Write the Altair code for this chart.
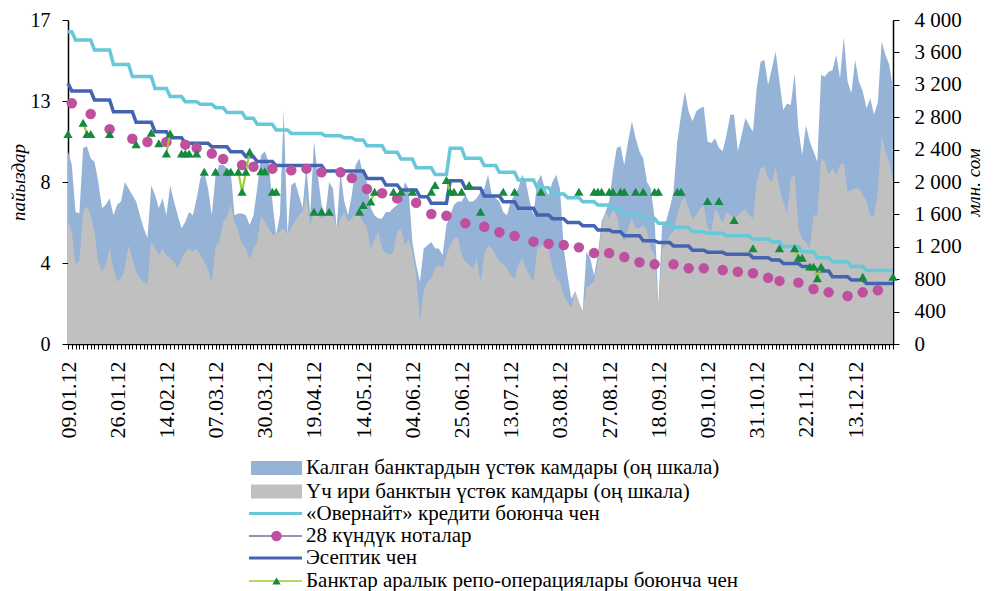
import altair as alt
import pandas as pd

FONT = "Liberation Serif, Times New Roman, DejaVu Serif, serif"
N = 219

# x-axis tick labels (every 13th trading day)
x_labels = ["09.01.12", "26.01.12", "14.02.12", "07.03.12", "30.03.12", "19.04.12",
            "14.05.12", "04.06.12", "25.06.12", "13.07.12", "03.08.12", "27.08.12",
            "18.09.12", "09.10.12", "31.10.12", "22.11.12", "13.12.12"]
label_step = 13

left_ticks = [0, 4.25, 8.5, 12.75, 17]
left_labels = ["0", "4", "8", "13", "17"]
right_ticks = [0, 400, 800, 1200, 1600, 2000, 2400, 2800, 3200, 3600, 4000]

# excess reserves, mln som (right scale): top of the blue area (all banks)
reserves_all = [
    2380, 2210, 1630, 1610, 2420, 2440, 2290, 2250, 2000, 1680,
    1720, 1800, 1590, 1720, 1760, 2000, 1920, 1840, 1760, 1590,
    1430, 1310, 1960, 1840, 1680, 1800, 1590, 1960, 1760, 1590,
    1430, 1510, 1630, 1590, 1800, 2050, 2130, 1920, 1590, 2090,
    2210, 2210, 2170, 2130, 1590, 1610, 1610, 1590, 1470, 1590,
    1920, 2330, 2380, 2250, 1760, 1350, 1590, 2890, 1350, 1960,
    2000, 1840, 1680, 2210, 1590, 2500, 2090, 1720, 1590, 2000,
    1920, 1430, 2130, 1760, 1590, 1840, 2210, 2290, 2090, 2000,
    1680, 1590, 1550, 1550, 1630, 1630, 1680, 1720, 1760, 2000,
    1920, 1260, 980, 770, 1180, 1220, 1260, 1180, 1180, 1100,
    1470, 1590, 1720, 1760, 1760, 1840, 1760, 1760, 1800, 1880,
    1920, 2090, 1840, 1800, 1760, 1630, 1590, 1760, 1840, 1920,
    2090, 2000, 1760, 1590, 2000, 2090, 1920, 1840, 2000, 2090,
    1920, 1180, 850, 560, 650, 520, 400, 1140, 1060, 850,
    1100, 1510, 1630, 1760, 2130, 2420, 2440, 2210, 2500, 2750,
    2540, 2380, 2290, 2000, 1920, 1550, 480, 1470, 1510, 1680,
    1880, 2500, 2830, 3120, 2870, 2750, 2870, 2910, 2930, 2500,
    2480, 2540, 2420, 2380, 2580, 2830, 2830, 2380, 2580, 2790,
    2700, 2620, 3160, 3480, 3510, 3200, 3400, 3610, 3240, 2890,
    2970, 2950, 3340, 2660, 2330, 2700, 2500, 2380, 2250, 3320,
    3300, 3360, 3380, 3570, 3280, 3790, 3240, 3100, 3510, 3240,
    3120, 2910, 3030, 2830, 2990, 3730, 3570, 3450, 3160]

# excess reserves of the three largest banks (gray area)
reserves_big3 = [
    1510, 1390, 980, 1020, 1630, 1700, 1590, 1390, 1020, 890,
    980, 1180, 930, 770, 810, 930, 1220, 1060, 890, 810,
    770, 730, 1260, 1180, 1100, 1180, 1100, 1060, 1020, 930,
    1060, 1140, 1180, 1140, 1180, 1100, 1020, 930, 770, 1220,
    1260, 1510, 1560, 1720, 1510, 1390, 1240, 1180, 1040, 1180,
    1260, 1590, 1510, 1430, 1350, 1350, 1390, 1430, 1350, 1430,
    1510, 1590, 1630, 1820, 1470, 1630, 1590, 1550, 1590, 1700,
    1590, 1430, 1550, 1630, 1510, 1550, 1610, 1590, 1510, 1430,
    1180, 1300, 1390, 1180, 1120, 1100, 1140, 1390, 1430, 1220,
    1300, 1140, 850, 280, 650, 770, 810, 930, 980, 930,
    1100, 1220, 1300, 1320, 1100, 1020, 980, 930, 1060, 770,
    1100, 1220, 1180, 1100, 1020, 980, 930, 850, 810, 980,
    1060, 930, 850, 770, 1180, 1220, 1220, 1180, 930, 810,
    770, 600, 520, 440, 650, 520, 400, 690, 730, 770,
    1020, 1430, 1630, 1550, 1670, 1590, 1350, 1260, 1430, 1550,
    1430, 1430, 1470, 1390, 1180, 1100, 440, 1180, 1220, 1350,
    1390, 1590, 1760, 1820, 1670, 1550, 1590, 1670, 1720, 1430,
    1390, 1670, 1590, 1490, 1630, 1590, 1550, 1590, 1630, 1670,
    1590, 1550, 2000, 2170, 2190, 2050, 2000, 2190, 1920, 1760,
    1590, 2050, 2090, 1430, 1300, 1260, 1180, 1590, 1590, 2290,
    2250, 2090, 2170, 2090, 2210, 2230, 1880, 1900, 1920, 1920,
    1840, 1760, 1590, 1570, 1900, 2580, 2370, 2250, 2000]

# overnight rate, % : (first trading-day index of the level, level)
overnight_start = [0, 2, 7, 12, 17, 23, 27, 31, 35, 39, 42, 47, 50, 55, 59, 68, 73, 76, 79, 84,
                   88, 92, 97, 101, 105, 110, 114, 119, 124, 128, 132, 136, 140, 144, 147, 152,
                   156, 160, 165, 169, 174, 181, 186, 189, 194, 198, 202, 207, 211]
overnight_rate = [16.39, 15.95, 15.43, 14.67, 14.03, 13.41, 12.98, 12.71, 12.58, 12.40, 12.15,
                  11.84, 11.53, 11.23, 11.05, 10.93, 10.82, 10.70, 10.40, 10.06, 9.71, 9.25,
                  8.90, 10.27, 9.74, 9.36, 9.01, 8.60, 8.20, 7.87, 7.68, 7.47, 7.29, 7.08, 6.80,
                  6.59, 6.33, 6.12, 5.89, 5.81, 5.68, 5.51, 5.37, 5.11, 4.84, 4.53, 4.32, 4.06, 3.85]

# accounting (policy) rate, %
account_start = [0, 1, 7, 12, 18, 23, 27, 31, 38, 43, 47, 50, 55, 68, 79, 84, 88, 93, 96, 101,
                 105, 110, 115, 119, 124, 128, 132, 136, 140, 144, 147, 152, 156, 160, 165, 169,
                 174, 181, 186, 189, 194, 198, 202, 207, 211]
account_rate = [13.68, 13.27, 12.80, 12.19, 11.63, 11.14, 10.82, 10.53, 10.35, 10.09, 9.83, 9.57,
                9.36, 9.08, 8.69, 8.34, 8.08, 7.73, 7.38, 8.57, 8.17, 7.77, 7.47, 7.12, 6.77,
                6.57, 6.38, 6.21, 5.98, 5.89, 5.68, 5.42, 5.32, 5.14, 4.92, 4.81, 4.71, 4.53,
                4.41, 4.23, 4.06, 3.83, 3.53, 3.36, 3.18]

# 28-day notes yield, % (weekly auctions)
notes_idx = [1, 6, 11, 17, 21, 26, 31, 34, 38, 41, 46, 49, 54, 59, 63, 67, 72, 75, 79, 83, 87,
             92, 96, 100, 105, 110, 114, 118, 123, 127, 131, 135, 139, 143, 147, 151, 155, 160,
             164, 168, 173, 177, 181, 185, 188, 193, 197, 201, 206, 210, 214]
notes_rate = [12.63, 12.07, 11.27, 10.77, 10.60, 10.60, 10.46, 10.28, 9.99, 9.71, 9.39, 9.30,
              9.20, 9.11, 9.20, 9.01, 9.01, 8.71, 8.13, 7.91, 7.64, 7.41, 6.82, 6.73, 6.33,
              6.15, 5.86, 5.67, 5.37, 5.26, 5.19, 5.07, 4.77, 4.77, 4.56, 4.29, 4.18, 4.18,
              3.97, 3.97, 3.88, 3.79, 3.71, 3.48, 3.31, 3.22, 2.89, 2.71, 2.52, 2.71, 2.82]

# interbank repo rate, % (days with deals only)
repo_idx = [0, 4, 5, 6, 11, 18, 22, 24, 26, 27, 30, 31, 32, 34, 36, 39, 42, 43, 45, 46, 47, 48,
            51, 52, 54, 55, 65, 67, 69, 77, 78, 80, 81, 86, 88, 91, 96, 97, 100, 101, 102, 104,
            106, 109, 115, 118, 125, 135, 139, 140, 141, 143, 144, 146, 147, 150, 152, 155, 156,
            161, 162, 169, 172, 176, 181, 188, 192, 193, 194, 196, 197, 198, 199, 210, 218]
repo_rate = [11.02, 11.61, 11.02, 11.02, 11.02, 10.48, 11.09, 10.53, 10.00, 11.05, 10.00, 10.00,
             10.00, 10.00, 9.04, 9.04, 9.04, 9.04, 9.04, 7.99, 9.04, 10.09, 9.07, 9.07, 7.99,
             7.99, 6.94, 6.94, 6.94, 6.94, 7.29, 7.47, 7.99, 7.99, 7.99, 7.99, 7.99, 8.34, 8.60,
             7.99, 7.99, 7.99, 8.34, 6.94, 7.99, 7.99, 7.99, 7.99, 7.99, 7.99, 7.99, 7.99, 7.99,
             7.99, 7.99, 7.99, 7.99, 7.99, 7.99, 7.99, 7.99, 7.50, 7.50, 6.51, 5.02, 5.02, 5.02,
             4.53, 4.53, 4.06, 4.06, 3.45, 4.06, 3.53, 3.53]

legend_texts = ["Калган банктардын үстөк камдары (оң шкала)",
                "Үч ири банктын үстөк камдары (оң шкала)",
                "«Овернайт» кредити боюнча чен",
                "28 күндүк ноталар",
                "Эсептик чен",
                "Банктар аралык репо-операциялары боюнча чен"]

C_BLUE_AREA = "#95B3D7"
C_GRAY_AREA = "#C0C0C0"
C_OVERNIGHT = "#66C8D8"
C_ACCOUNT = "#4463B0"
C_NOTES = "#BF50A0"
C_NOTES_LINE = "#8064A2"
C_REPO_PT = "#138A3E"
C_REPO_LINE = "#9ACD32"


def steps(starts, levels):
    out, k = [], 0
    for i in range(N):
        while k + 1 < len(starts) and starts[k + 1] <= i:
            k += 1
        out.append(levels[k])
    return out


idx = list(range(N))
df = pd.DataFrame({
    "i": idx,
    "all": reserves_all,
    "big3": reserves_big3,
    "overnight": steps(overnight_start, overnight_rate),
    "account": steps(account_start, account_rate),
})
df_notes = pd.DataFrame({"i": notes_idx, "rate": notes_rate})
repo_map = dict(zip(repo_idx, repo_rate))
df_repo_line = pd.DataFrame({"i": idx, "rate": [repo_map.get(i) for i in idx]})
df_repo = pd.DataFrame({"i": repo_idx, "rate": repo_rate})

labels_js = "[" + ",".join("'" + s + "'" for s in x_labels) + "]"
x_axis = alt.Axis(
    values=idx,
    labelExpr=f"datum.value % {label_step} == 0 ? {labels_js}[datum.value / {label_step}] : ''",
    labelAngle=-90, labelOverlap=False, labelFlush=False, labelFont=FONT, labelFontSize=22,
    labelColor="black", labelPadding=12, tickSize=5, tickColor="black", domainColor="black",
    tickWidth=1, domainWidth=1.5, grid=False, title=None)
x_enc = alt.X("i:Q", scale=alt.Scale(domain=[0, N - 1], nice=False, zero=False), axis=x_axis)

lt_js = "[" + ",".join(str(v) for v in left_ticks) + "]"
ll_js = "[" + ",".join("'" + s + "'" for s in left_labels) + "]"
left_axis = alt.Axis(
    orient="left", values=left_ticks, labelExpr=f"{ll_js}[indexof({lt_js}, datum.value)]",
    labelFont=FONT, labelFontSize=20, labelColor="black", labelPadding=12, tickSize=6,
    tickColor="black", domainColor="black", domainWidth=1.5, grid=False,
    title="пайыздар", titleFont=FONT, titleFontSize=19, titleFontStyle="italic",
    titleFontWeight="normal", titleColor="black", titlePadding=2)
right_axis = alt.Axis(
    orient="right", values=right_ticks, labelExpr="replace(format(datum.value, ','), ',', ' ')",
    labelFont=FONT, labelFontSize=21, labelColor="black", labelPadding=15, tickSize=6,
    tickColor="black", domainColor="black", domainWidth=1.5, grid=False,
    title="млн. сом", titleFont=FONT, titleFontSize=19, titleFontStyle="italic",
    titleFontWeight="normal", titleColor="black", titlePadding=22, titleAngle=270)

yl = alt.Scale(domain=[0, 17], nice=False, zero=True)
yr = alt.Scale(domain=[0, 4000], nice=False, zero=True)

area_all = alt.Chart(df).mark_area(color=C_BLUE_AREA, opacity=1).encode(
    x=x_enc, y=alt.Y("all:Q", scale=yr, axis=right_axis))
area_big3 = alt.Chart(df).mark_area(color=C_GRAY_AREA, opacity=1).encode(
    x=x_enc, y=alt.Y("big3:Q", scale=yr, axis=right_axis))
areas = alt.layer(area_all, area_big3)

line_on = alt.Chart(df).mark_line(color=C_OVERNIGHT, strokeWidth=3.5).encode(
    x=x_enc, y=alt.Y("overnight:Q", scale=yl, axis=left_axis))
line_acc = alt.Chart(df).mark_line(color=C_ACCOUNT, strokeWidth=3.5).encode(
    x=x_enc, y=alt.Y("account:Q", scale=yl, axis=left_axis))
pts_notes = alt.Chart(df_notes).mark_point(shape="circle", filled=True, size=110, color=C_NOTES,
                                           opacity=1).encode(
    x=x_enc, y=alt.Y("rate:Q", scale=yl, axis=left_axis))
line_repo = alt.Chart(df_repo_line).mark_line(color=C_REPO_LINE, strokeWidth=2,
                                              invalid="break-paths-show-domains").encode(
    x=x_enc, y=alt.Y("rate:Q", scale=yl, axis=left_axis))
pts_repo = alt.Chart(df_repo).mark_point(shape="triangle-up", filled=True, size=85,
                                         color=C_REPO_PT, opacity=1).encode(
    x=x_enc, y=alt.Y("rate:Q", scale=yl, axis=left_axis))
lines = alt.layer(line_on, line_acc, pts_notes, line_repo, pts_repo)

# manual legend below the plot
one = pd.DataFrame({"k": [0]})
SX1, SX2, SXC, TX = 183, 234, 208.5, 238
rows_y = [448, 471.5, 493.5, 516, 538, 561]
leg = []
leg.append(alt.Chart(one).mark_rect(color=C_BLUE_AREA).encode(
    x=alt.value(SX1), x2=alt.value(SX2), y=alt.value(rows_y[0] - 7), y2=alt.value(rows_y[0] + 7)))
leg.append(alt.Chart(one).mark_rect(color=C_GRAY_AREA).encode(
    x=alt.value(SX1), x2=alt.value(SX2), y=alt.value(rows_y[1] - 7), y2=alt.value(rows_y[1] + 7)))
leg.append(alt.Chart(one).mark_rule(color=C_OVERNIGHT, strokeWidth=3).encode(
    x=alt.value(SX1 - 2), x2=alt.value(SX2), y=alt.value(rows_y[2])))
leg.append(alt.Chart(one).mark_rule(color=C_NOTES_LINE, strokeWidth=1.5).encode(
    x=alt.value(SX1 - 2), x2=alt.value(SX2), y=alt.value(rows_y[3])))
leg.append(alt.Chart(one).mark_point(shape="circle", filled=True, size=110, color=C_NOTES,
                                     opacity=1).encode(x=alt.value(SXC), y=alt.value(rows_y[3])))
leg.append(alt.Chart(one).mark_rule(color=C_ACCOUNT, strokeWidth=3).encode(
    x=alt.value(SX1 - 2), x2=alt.value(SX2), y=alt.value(rows_y[4])))
leg.append(alt.Chart(one).mark_rule(color=C_REPO_LINE, strokeWidth=1.5).encode(
    x=alt.value(SX1 - 2), x2=alt.value(SX2), y=alt.value(rows_y[5])))
leg.append(alt.Chart(one).mark_point(shape="triangle-up", filled=True, size=70, color=C_REPO_PT,
                                     opacity=1).encode(x=alt.value(SXC), y=alt.value(rows_y[5])))
for t, yy in zip(legend_texts, rows_y):
    leg.append(alt.Chart(one).mark_text(text=t, align="left", baseline="middle", font=FONT,
                                        fontSize=21, color="black").encode(
        x=alt.value(TX), y=alt.value(yy)))

chart = alt.layer(areas, lines, *leg).resolve_scale(y="independent").properties(
    width=825, height=324,
    autosize=alt.AutoSizeParams(type="none"),
    padding={"left": 60, "top": 12, "right": 92, "bottom": 250},
    background="white",
).configure_view(stroke=None)

chart.save("out.html", embed_options={"renderer": "svg", "actions": False})
